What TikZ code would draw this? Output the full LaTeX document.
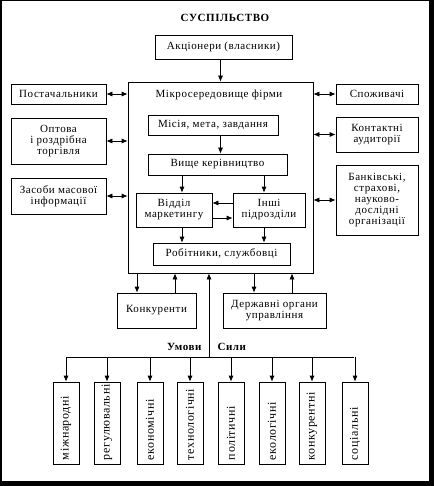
\documentclass[tikz,border=0pt]{standalone}
\usepackage{fontspec}
\setmainfont[LetterSpace=5]{Liberation Serif}
\usetikzlibrary{arrows.meta}

\tikzset{
    box/.style={draw,line width=0.7pt,inner sep=1pt,align=center,font=\fontsize{11}{11}\selectfont},
    arr/.style={line width=0.7pt,-{Latex[length=6pt,width=5pt]}},
    dbl/.style={line width=0.7pt,{Latex[length=6pt,width=5pt]}-{Latex[length=6pt,width=5pt]}},
    factor/.style={draw,line width=0.7pt,inner xsep=4pt,inner ysep=1pt,text width=74pt,align=left,
                   minimum height=26pt,rotate=90,font=\fontsize{12}{12}\selectfont}
}

\begin{document}
\begin{tikzpicture}[x=1pt,y=-1pt]
    % frame with shadow
    \fill[black] (0,0) rectangle (434,486);
    \fill[white] (2,1) rectangle (429,481);
    \useasboundingbox (0,0) rectangle (434,486);

    \node (title) at (225,18) {\fontsize{11}{11}\selectfont\bfseries СУСПІЛЬСТВО};
    \node[box,minimum width=137pt,minimum height=24pt] (akc) at (223.5,47) {Акціонери (власники)};

    % firm
    \node[box,minimum width=185pt,minimum height=191pt] (mikro) at (220.5,177.5) {};
    \node[font=\fontsize{11}{11}\selectfont] (mikrolabel) at (219,95) {Мікросередовище фірми};
    \node[box,minimum width=130pt,minimum height=20pt] (misia) at (213,125) {Місія, мета, завдання};
    \node[box,minimum width=139pt,minimum height=21pt] (vyshche) at (217.5,164.5) {Вище керівництво};
    \node[box,minimum width=76pt,minimum height=34pt] (viddil) at (174,210) {Відділ\\маркетингу};
    \node[box,minimum width=72pt,minimum height=34pt] (inshi) at (269,210) {Інші\\підрозділи};
    \node[box,minimum width=137pt,minimum height=22pt] (robit) at (221.5,254) {Робітники, службовці};

    % left and right
    \node[box,minimum width=95pt,minimum height=20pt] (post) at (58.5,94) {Постачальники};
    \node[box,minimum width=95pt,minimum height=46pt] (opt) at (58.5,141) {Оптова\\і роздрібна\\торгівля};
    \node[box,minimum width=95pt,minimum height=36pt] (zasoby) at (58.5,196) {Засоби масової\\інформації};
    \node[box,minimum width=82pt,minimum height=20pt] (spoz) at (377,94) {Споживачі};
    \node[box,minimum width=82pt,minimum height=35pt] (kontakt) at (377,134.5) {Контактні\\аудиторії};
    \node[box,minimum width=82pt,minimum height=70pt] (bank) at (377,200) {Банківські,\\страхові,\\науково-\\дослідні\\організації};

    % below
    \node[box,minimum width=79pt,minimum height=35pt] (konk) at (156.5,310.5) {Конкуренти};
    \node[box,minimum width=103pt,minimum height=35pt] (derzh) at (274.5,310.5) {Державні органи\\управління};

    \coordinate (lft) at (182,0);
    \coordinate (rgt) at (264,0);
    \coordinate (hub) at (209,357);
    \coordinate (hubl) at (66,357);
    \coordinate (hubr) at (354,357);

    \draw[arr] (akc.south -| mikro.north) -- (mikro.north);
    \draw[arr] (misia.south -| mikro.north) -- (vyshche.north -| mikro.north);
    \draw[arr] (vyshche.south -| lft) -- (viddil.north -| lft);
    \draw[arr] (vyshche.south -| rgt) -- (inshi.north -| rgt);
    \draw[arr] (viddil.south -| lft) -- (robit.north -| lft);
    \draw[arr] (inshi.south -| rgt) -- (robit.north -| rgt);
    \draw[arr] ([yshift=-8pt]viddil.east) -- ([yshift=-8pt]inshi.west);
    \draw[arr] ([yshift=7pt]inshi.west) -- ([yshift=7pt]viddil.east);

    \draw[dbl] (post.east) -- (post.east -| mikro.west);
    \draw[dbl] (opt.east) -- (opt.east -| mikro.west);
    \draw[dbl] (zasoby.east) -- (zasoby.east -| mikro.west);
    \draw[dbl] (spoz.west -| mikro.east) -- (spoz.west);
    \draw[dbl] (kontakt.west -| mikro.east) -- (kontakt.west);
    \draw[dbl] (bank.west -| mikro.east) -- (bank.west);

    \draw[arr] ([xshift=-19.5pt]konk.north |- mikro.south) -- ([xshift=-19.5pt]konk.north);
    \draw[arr] ([xshift=18.5pt]konk.north) -- ([xshift=18.5pt]konk.north |- mikro.south);
    \draw[arr] ([xshift=-20.5pt]derzh.north |- mikro.south) -- ([xshift=-20.5pt]derzh.north);
    \draw[arr] ([xshift=17.5pt]derzh.north) -- ([xshift=17.5pt]derzh.north |- mikro.south);

    % environment factors
    \draw[arr] (hub) -- (hub |- mikro.south);
    \draw[line width=0.7pt] (hubl) -- (hubr);
    \node[font=\fontsize{11}{11}\selectfont\bfseries,anchor=east] (umovy) at (205,347) {Умови};
    \node[font=\fontsize{11}{11}\selectfont\bfseries,anchor=west] (syly) at (214,347) {Сили};

    \foreach \name/\x/\txt in {f1/66/міжнародні, f2/107/регулювальні, f3/150/економічні, f4/190/технологічні,
                              f5/231/політичні, f6/272/екологічні, f7/312/конкурентні, f8/355/соціальні} {
        \node[factor] (\name) at (\x,423) {\txt};
        \draw[arr] (\name.east |- hub) -- (\name.east);
    }
\end{tikzpicture}
\end{document}
